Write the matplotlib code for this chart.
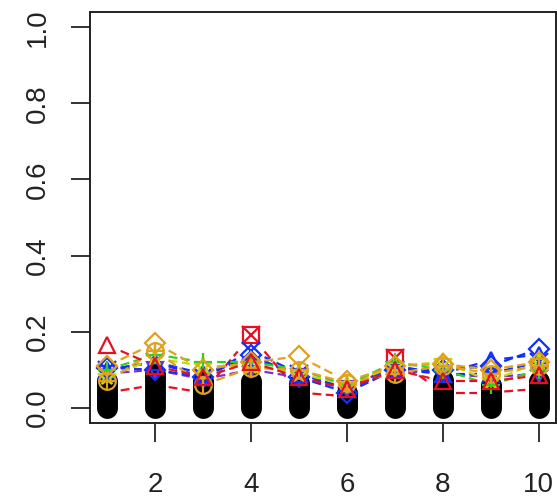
import matplotlib
matplotlib.use("Agg")
import matplotlib.pyplot as plt
import numpy as np

plt.rcParams['font.family'] = ['Liberation Sans', 'DejaVu Sans']

x = np.arange(1, 11)
x_ticks = [2, 4, 6, 8, 10]
y_ticks = [0.0, 0.2, 0.4, 0.6, 0.8, 1.0]

# low-valued series, drawn as solid black points
black_series = [
    [0.000, 0.000, 0.000, 0.000, 0.000, 0.000, 0.000, 0.000, 0.000, 0.000],
    [0.008, 0.010, 0.008, 0.008, 0.008, 0.004, 0.008, 0.008, 0.007, 0.008],
    [0.016, 0.020, 0.016, 0.016, 0.015, 0.008, 0.016, 0.016, 0.014, 0.016],
    [0.024, 0.030, 0.024, 0.024, 0.022, 0.012, 0.024, 0.024, 0.021, 0.024],
    [0.032, 0.040, 0.032, 0.032, 0.030, 0.017, 0.032, 0.032, 0.028, 0.032],
    [0.040, 0.050, 0.040, 0.040, 0.037, 0.022, 0.040, 0.040, 0.035, 0.040],
    [0.048, 0.060, 0.048, 0.048, 0.044, 0.027, 0.048, 0.048, 0.042, 0.048],
    [0.056, 0.070, 0.056, 0.056, 0.051, 0.032, 0.056, 0.056, 0.049, 0.056],
    [0.064, 0.080, 0.064, 0.064, 0.058, 0.036, 0.064, 0.064, 0.055, 0.064],
    [0.070, 0.090, 0.070, 0.070, 0.064, 0.040, 0.070, 0.072, 0.060, 0.070],
]

# coloured series
red_tri = [0.165, 0.11, 0.08, 0.12, 0.08, 0.05, 0.10, 0.07, 0.07, 0.085]
red_boxx = [0.04, 0.06, 0.04, 0.19, 0.04, 0.03, 0.13, 0.04, 0.04, 0.05]
orange_dia = [0.11, 0.17, 0.10, 0.12, 0.135, 0.07, 0.11, 0.115, 0.10, 0.12]
orange_cplus = [0.07, 0.15, 0.06, 0.105, 0.10, 0.065, 0.09, 0.11, 0.09, 0.11]
green_plus = [0.10, 0.14, 0.12, 0.12, 0.10, 0.06, 0.12, 0.10, 0.06, 0.10]
yellow_star = [0.08, 0.13, 0.11, 0.11, 0.09, 0.06, 0.11, 0.12, 0.07, 0.12]
blue_x = [0.10, 0.12, 0.08, 0.15, 0.09, 0.05, 0.10, 0.09, 0.09, 0.12]
blue_tri = [0.10, 0.12, 0.09, 0.13, 0.09, 0.05, 0.11, 0.09, 0.125, 0.14]
blue_dia = [0.105, 0.10, 0.08, 0.14, 0.08, 0.04, 0.10, 0.10, 0.11, 0.155]
purple_vtri = [0.09, 0.10, 0.075, 0.10, 0.08, 0.05, 0.10, 0.09, 0.08, 0.09]

# (values, colour, overlaid glyphs, drawn above the black points?)
colored = [
    (red_boxx, '#E81020', ['s', 'x'], False),
    (purple_vtri, '#7B2FD0', ['v'], True),
    (blue_dia, '#1030FF', ['D'], True),
    (blue_tri, '#1030FF', ['^'], True),
    (blue_x, '#1030FF', ['x'], True),
    (yellow_star, '#C8D800', ['*'], True),
    (green_plus, '#30D020', ['+'], True),
    (orange_cplus, '#E0A020', ['o', '+'], True),
    (orange_dia, '#E0A020', ['D'], True),
    (red_tri, '#E81020', ['^'], True),
]

fig = plt.figure(figsize=(5.57, 4.99), dpi=100)
ax = fig.add_axes([90 / 557, 1 - 423 / 499, 466 / 557, 411 / 499])

for s in black_series:
    ax.plot(x, s, linestyle='none', marker='o', markersize=15,
            markeredgewidth=0, color='black', zorder=2)

for vals, col, marks, on_top in colored:
    v = np.array(vals)
    z = 4 if on_top else 1.5
    # broken dashed connectors, leaving a gap around each point
    for i in range(len(x) - 1):
        x0, x1 = x[i], x[i + 1]
        y0, y1 = v[i], v[i + 1]
        ax.plot([x0 + 0.28 * (x1 - x0), x0 + 0.72 * (x1 - x0)],
                [y0 + 0.28 * (y1 - y0), y0 + 0.72 * (y1 - y0)],
                color=col, linestyle=(0, (4, 2)), linewidth=1.6, zorder=3)
    for m in marks:
        size = 12 if m in ('s', 'o', '^', 'v') else 13
        if m == 'D':
            size = 10
        ax.plot(x, v, linestyle='none', marker=m, markersize=size,
                markerfacecolor='none', markeredgecolor=col,
                markeredgewidth=1.6, zorder=z)

ax.set_xlim(0.64, 10.36)
ax.set_ylim(-0.04, 1.04)
ax.set_xticks(x_ticks)
ax.set_xticklabels([str(t) for t in x_ticks])
ax.set_yticks(y_ticks)
ax.set_yticklabels([f"{t:.1f}" for t in y_ticks], rotation=90, va='center')

ax.tick_params(axis='both', length=14, width=1.3, labelsize=20, color='#222222',
               labelcolor='#222222')
ax.tick_params(axis='x', pad=21)
ax.tick_params(axis='y', pad=14)
for sp in ax.spines.values():
    sp.set_linewidth(1.4)
    sp.set_color('#222222')

fig.savefig('out.png', dpi=100)
